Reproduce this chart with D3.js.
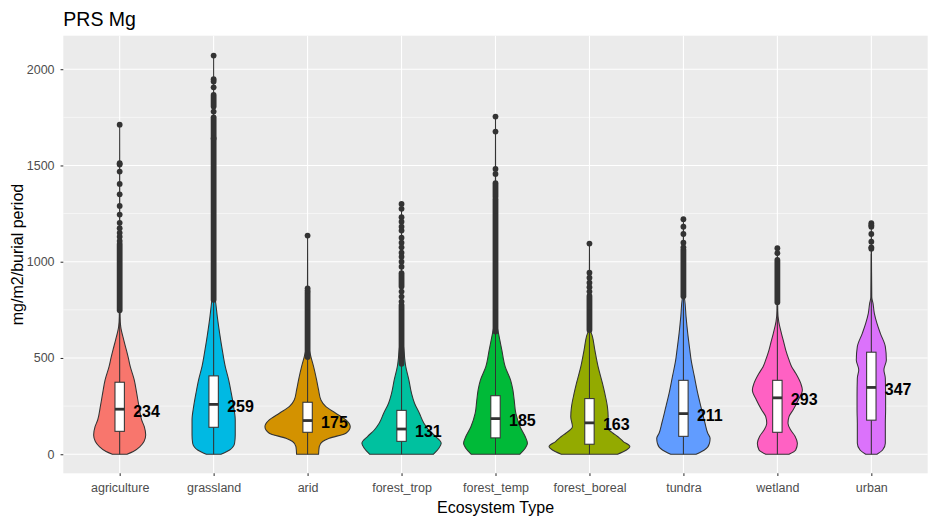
<!DOCTYPE html>
<html>
<head>
<meta charset="utf-8">
<script src="https://cdn.jsdelivr.net/npm/d3@7/dist/d3.min.js"></script>
<style>
  body { margin: 0; background: #fff; }
  svg text { font-family: "Liberation Sans", Arial, sans-serif; }
</style>
</head>
<body>
<svg id="chart" width="937" height="524"></svg>
<script>
// categories (plot order) and fill colours
const categories = ['agriculture', 'grassland', 'arid', 'forest_trop', 'forest_temp', 'forest_boreal', 'tundra', 'wetland', 'urban']
const fills = ['#F8766D', '#00B9E3', '#D39200', '#00C19F', '#00BA38', '#93AA00', '#619CFF', '#FF61C3', '#DB72FB']

// box stats
const q1 = [119, 140, 114, 67, 85, 52, 93, 114, 177]
const medians = [234, 259, 175, 131, 185, 163, 211, 293, 347]
const q3 = [374, 407, 270, 228, 304, 289, 384, 384, 530]
const whiskLow = [0, 0, 0, 0, 0, 0, 0, 0, 0]
const whiskHigh = [745, 800, 502, 468, 630, 640, 815, 785, 1040]

// violin half-widths: [value, half width in category units]
const violinAgriculture = [[0, 0.078], [14, 0.145], [40, 0.216], [66, 0.259], [100, 0.277], [143, 0.262], [178, 0.234], [247, 0.206], [317, 0.181], [386, 0.155], [455, 0.113], [507, 0.089], [542, 0.071], [594, 0.043], [663, 0.011], [715, 0.004], [900, 0.002], [1712, 0]]
const violinGrassland = [[0, 0.078], [22, 0.17], [57, 0.223], [100, 0.23], [178, 0.23], [247, 0.213], [317, 0.188], [386, 0.16], [455, 0.124], [542, 0.092], [628, 0.064], [715, 0.039], [801, 0.018], [840, 0.004], [1000, 0.002], [2071, 0]]
const violinArid = [[0, 0.117], [40, 0.124], [66, 0.16], [83, 0.23], [109, 0.408], [143, 0.454], [178, 0.408], [213, 0.30], [247, 0.195], [282, 0.142], [334, 0.117], [386, 0.096], [455, 0.064], [507, 0.035], [542, 0.018], [594, 0.007], [700, 0.002], [1136, 0]]
const violinForestTrop = [[0, 0.34], [31, 0.397], [57, 0.422], [92, 0.362], [126, 0.29], [161, 0.238], [213, 0.19], [265, 0.138], [317, 0.106], [386, 0.078], [455, 0.045], [542, 0.025], [620, 0.008], [800, 0.002], [1300, 0]]
const violinForestTemp = [[0, 0.26], [31, 0.316], [57, 0.34], [92, 0.316], [143, 0.262], [213, 0.216], [282, 0.199], [334, 0.185], [386, 0.16], [455, 0.103], [542, 0.067], [628, 0.032], [680, 0.012], [800, 0.003], [1754, 0]]
const violinForestBoreal = [[0, 0.30], [22, 0.394], [40, 0.43], [66, 0.36], [92, 0.30], [109, 0.252], [143, 0.181], [195, 0.199], [247, 0.191], [317, 0.163], [369, 0.138], [455, 0.092], [542, 0.057], [611, 0.032], [646, 0.01], [700, 0.003], [800, 0.002], [1094, 0]]
const violinTundra = [[0, 0.135], [22, 0.223], [57, 0.277], [83, 0.284], [109, 0.259], [161, 0.23], [230, 0.195], [317, 0.152], [403, 0.117], [490, 0.082], [542, 0.068], [628, 0.046], [715, 0.028], [801, 0.014], [830, 0.004], [1000, 0.002], [1221, 0]]
const violinWetland = [[0, 0.124], [22, 0.195], [57, 0.213], [94, 0.188], [126, 0.142], [161, 0.113], [195, 0.124], [230, 0.167], [282, 0.223], [334, 0.266], [369, 0.248], [421, 0.195], [455, 0.152], [490, 0.124], [540, 0.09], [576, 0.071], [628, 0.043], [690, 0.014], [745, 0.004], [900, 0.002], [1070, 0]]
const violinUrban = [[0, 0.06], [22, 0.12], [57, 0.149], [109, 0.149], [161, 0.149], [230, 0.152], [299, 0.152], [395, 0.149], [438, 0.134], [490, 0.16], [559, 0.149], [628, 0.096], [680, 0.06], [732, 0.032], [784, 0.018], [815, 0.005], [1000, 0.002], [1200, 0]]
const violins = [violinAgriculture, violinGrassland, violinArid, violinForestTrop, violinForestTemp, violinForestBoreal, violinTundra, violinWetland, violinUrban]

// outliers: single points and dense runs [from, to]
const outlierPoints = [
  [1712, 1512, 1505, 1468, 1404, 1350, 1290, 1245, 1202, 1174, 1150, 1130, 1108],
  [2071, 1948, 1936, 1906, 1780],
  [1136, 862, 850],
  [1300, 1275, 1231, 1208, 1182, 1162, 1125, 1099, 1075, 1047, 1026, 1000, 974, 845, 819, 793],
  [1754, 1676, 1482, 1456],
  [1094, 943, 917, 891, 868, 845],
  [1221, 1182, 1144, 1099, 1075],
  [1070, 1044],
  [1200, 1190, 1182, 1144, 1104, 1075, 1068]
]
const outlierRuns = [
  [[748, 1092]],
  [[1806, 1866], [1640, 1750], [802, 1640]],
  [[505, 840]],
  [[871, 940], [470, 775]],
  [[1338, 1408], [637, 1325]],
  [[645, 822]],
  [[820, 1062]],
  [[790, 1009]],
  []
]

const yTicks = [0, 500, 1000, 1500, 2000]
const yMinor = [250, 750, 1250, 1750]

const svg = d3.select('#chart')
const panel = { left: 63.3, right: 927.7, top: 35.7, bottom: 473.3 }

const x_scale = d3.scalePoint().domain(categories).range([panel.left, panel.right]).padding(0.6)
const y_scale = d3.scaleLinear().domain([-99, 2174]).range([panel.bottom, panel.top])
const step = x_scale.step()

// panel background + grid
svg.append('rect')
  .attr('x', panel.left).attr('y', panel.top)
  .attr('width', panel.right - panel.left).attr('height', panel.bottom - panel.top)
  .attr('fill', '#EBEBEB')

svg.selectAll('.minor-y').data(yMinor).join('line')
  .attr('x1', panel.left).attr('x2', panel.right)
  .attr('y1', d => y_scale(d)).attr('y2', d => y_scale(d))
  .attr('stroke', '#fff').attr('stroke-width', 0.55)
svg.selectAll('.major-y').data(yTicks).join('line')
  .attr('x1', panel.left).attr('x2', panel.right)
  .attr('y1', d => y_scale(d)).attr('y2', d => y_scale(d))
  .attr('stroke', '#fff').attr('stroke-width', 1.1)
svg.selectAll('.major-x').data(categories).join('line')
  .attr('x1', d => x_scale(d)).attr('x2', d => x_scale(d))
  .attr('y1', panel.top).attr('y2', panel.bottom)
  .attr('stroke', '#fff').attr('stroke-width', 1.1)

// violins
const chart = svg.append('g')
categories.forEach((cat, i) => {
  const cx = x_scale(cat)
  const areaGen = d3.area()
    .y(d => y_scale(d[0]))
    .x0(d => cx - d[1] * step)
    .x1(d => cx + d[1] * step)
    .curve(d3.curveMonotoneY)
  chart.append('path')
    .attr('d', areaGen(violins[i]))
    .attr('fill', fills[i])
    .attr('stroke', '#333333')
    .attr('stroke-width', 1.05)
})

// boxplots
const boxHalf = 0.05 * step
categories.forEach((cat, i) => {
  const cx = x_scale(cat)
  const g = chart.append('g')
  g.append('line')
    .attr('x1', cx).attr('x2', cx)
    .attr('y1', y_scale(q3[i])).attr('y2', y_scale(whiskHigh[i]))
    .attr('stroke', '#333333').attr('stroke-width', 1.05)
  g.append('line')
    .attr('x1', cx).attr('x2', cx)
    .attr('y1', y_scale(q1[i])).attr('y2', y_scale(whiskLow[i]))
    .attr('stroke', '#333333').attr('stroke-width', 1.05)
  g.append('rect')
    .attr('x', cx - boxHalf).attr('width', boxHalf * 2)
    .attr('y', y_scale(q3[i])).attr('height', y_scale(q1[i]) - y_scale(q3[i]))
    .attr('fill', '#fff').attr('stroke', '#333333').attr('stroke-width', 1.05)
  g.append('line')
    .attr('x1', cx - boxHalf).attr('x2', cx + boxHalf)
    .attr('y1', y_scale(medians[i])).attr('y2', y_scale(medians[i]))
    .attr('stroke', '#333333').attr('stroke-width', 2.8)

  // outliers
  g.selectAll('.run').data(outlierRuns[i]).join('line')
    .attr('x1', cx).attr('x2', cx)
    .attr('y1', d => y_scale(d[0])).attr('y2', d => y_scale(d[1]))
    .attr('stroke', '#333333').attr('stroke-width', 5.8).attr('stroke-linecap', 'round')
  g.selectAll('circle').data(outlierPoints[i]).join('circle')
    .attr('cx', cx).attr('cy', d => y_scale(d)).attr('r', 2.9)
    .attr('fill', '#333333')

  // median label
  g.append('text')
    .attr('x', cx + 13.5)
    .attr('y', y_scale(medians[i]) + 7.5)
    .style('font-size', '16px').style('font-weight', 'bold')
    .attr('fill', '#000')
    .text(medians[i])
})

// axes
const yAxis = svg.append('g').attr('transform', `translate(${panel.left},0)`)
  .call(d3.axisLeft(y_scale).tickValues(yTicks).tickFormat(d3.format('d')).tickSize(2.74).tickPadding(6))
yAxis.select('.domain').remove()
yAxis.selectAll('line').attr('stroke', '#333333').attr('stroke-width', 1.05)
yAxis.selectAll('text').attr('fill', '#4D4D4D').style('font-size', '12.5px').attr('font-family', null)

const xAxis = svg.append('g').attr('transform', `translate(0,${panel.bottom})`)
  .call(d3.axisBottom(x_scale).tickSize(2.74).tickPadding(7))
xAxis.select('.domain').remove()
xAxis.selectAll('line').attr('stroke', '#333333').attr('stroke-width', 1.05)
xAxis.selectAll('text').attr('fill', '#4D4D4D').style('font-size', '12.5px').attr('font-family', null)

// titles
svg.append('text').attr('x', 63.3).attr('y', 25.7)
  .style('font-size', '19.5px').attr('fill', '#000').text('PRS Mg')
svg.append('text').attr('x', (panel.left + panel.right) / 2).attr('y', 513.3)
  .attr('text-anchor', 'middle').style('font-size', '16px').attr('fill', '#000')
  .text('Ecosystem Type')
svg.append('text')
  .attr('transform', `translate(22.7,${(panel.top + panel.bottom) / 2}) rotate(-90)`)
  .attr('text-anchor', 'middle').style('font-size', '16px').attr('fill', '#000')
  .text('mg/m2/burial period')
</script>
</body>
</html>
